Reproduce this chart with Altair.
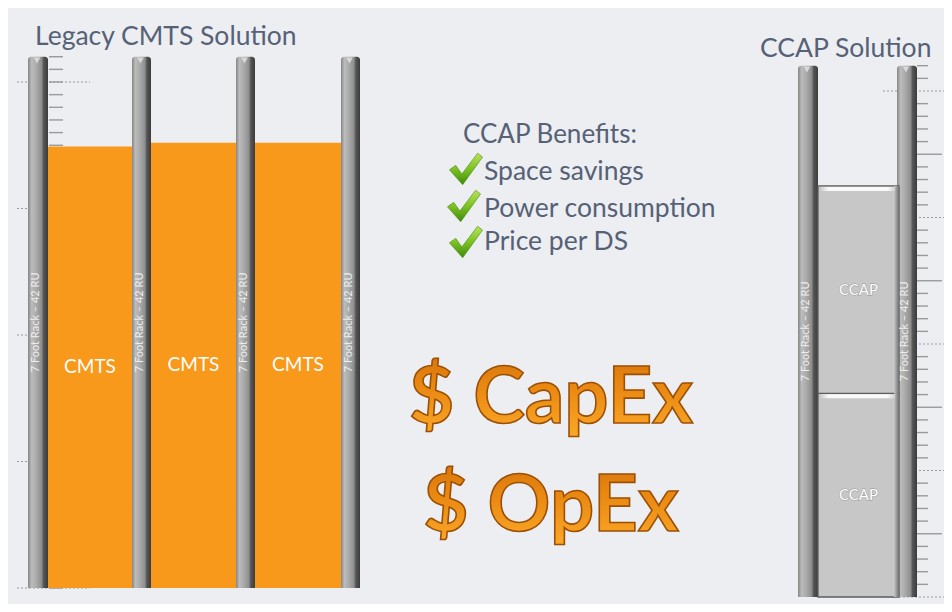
import altair as alt
import pandas as pd

# ---------------- data ----------------
rack_units = 42
titles = ["Legacy CMTS Solution", "CCAP Solution"]
rack_label = "7 Foot Rack – 42 RU"
cmts_labels = ["CMTS", "CMTS", "CMTS"]
cmts_units = [34.9, 35.2, 35.2]
ccap_labels = ["CCAP", "CCAP"]
ccap_units = [16.1, 16.4]
benefits_title = "CCAP Benefits:"
benefits = ["Space savings", "Power consumption", "Price per DS"]
cost_labels = ["$ CapEx", "$ OpEx"]

# ---------------- layout ----------------
PX_PER_RU = 12.65
FLOOR_PY = 588.0


def ru(py):
    return (FLOOR_PY - py) / PX_PER_RU


legacy_posts = [(28, 48), (132, 151), (236, 255), (341, 360)]
legacy_slots = [(48, 132), (151, 236), (255, 341)]
ccap_posts = [(798, 818), (897, 917)]
ccap_slot = (818, 899)
ccap_base = ru(597)

W, H = 936, 596
XS = alt.Scale(domain=[8, 8 + W], nice=False, zero=False)
YS = alt.Scale(domain=[ru(8 + H), ru(8)], nice=False, zero=False)


def X(f):
    return alt.X(f, type="quantitative", scale=XS, axis=None)


def Y(f):
    return alt.Y(f, type="quantitative", scale=YS, axis=None)


def hgrad(stops):
    return alt.LinearGradient(gradient="linear", x1=0, x2=1, y1=0, y2=0,
                              stops=[alt.GradientStop(offset=o, color=c) for o, c in stops])


def vgrad(stops):
    return alt.LinearGradient(gradient="linear", x1=0, x2=0, y1=0, y2=1,
                              stops=[alt.GradientStop(offset=o, color=c) for o, c in stops])


def rect_layer(df, **mk):
    return alt.Chart(df).mark_rect(**mk).encode(x=X("x"), x2=alt.X2("x2"), y=Y("y"), y2=alt.Y2("y2"))


def rule_layer(df, **mk):
    return alt.Chart(df).mark_rule(**mk).encode(x=X("x"), x2=alt.X2("x2"), y=Y("y"))


def text_layer(df, **mk):
    return alt.Chart(df).mark_text(**mk).encode(x=X("x"), y=Y("y"), text=alt.Text("t:N"))


FONT = "Lato"
TXT = "#566177"

# ---------------- ticks ----------------
left_minor = pd.DataFrame({"y": list(range(0, rack_units + 1)), "x": 49, "x2": 63})
left_major = pd.DataFrame({"y": list(range(0, rack_units + 1, 10)), "x": 17, "x2": 90})
rmin, rmed, rmaj = [], [], []
for k in range(0, rack_units + 1):
    yv = ccap_base + k
    if k % 10 == 0:
        rmaj.append({"y": yv, "x": 883, "x2": 8 + W})
    elif k % 5 == 0:
        rmed.append({"y": yv, "x": 917, "x2": 942})
    else:
        rmin.append({"y": yv, "x": 917, "x2": 928})

layers = [
    rule_layer(left_major, color="#9a9a9a", strokeWidth=1.2, strokeDash=[2, 2]),
    rule_layer(left_minor, color="#9a9a9a", strokeWidth=1.4),
    rule_layer(pd.DataFrame(rmaj), color="#9a9a9a", strokeWidth=1.2, strokeDash=[2, 2]),
    rule_layer(pd.DataFrame(rmed), color="#9a9a9a", strokeWidth=1.4),
    rule_layer(pd.DataFrame(rmin), color="#9a9a9a", strokeWidth=1.4),
]

# ---------------- posts ----------------
posts = [{"x": a, "x2": b, "y": 0, "y2": rack_units} for a, b in legacy_posts] + \
        [{"x": a, "x2": b, "y": ccap_base, "y2": ccap_base + rack_units} for a, b in ccap_posts]
posts_df = pd.DataFrame(posts)
post_grad = hgrad([(0, "#858585"), (0.18, "#bcbcbc"), (0.42, "#a9a9a9"), (0.68, "#8e8e8e"),
                   (0.78, "#555555"), (1, "#3c3c3c")])
layers.append(rect_layer(posts_df, color=post_grad, cornerRadiusTopLeft=3, cornerRadiusTopRight=3))
tops = pd.DataFrame({"x": (posts_df["x"] + posts_df["x2"]) / 2 - 1,
                     "y": posts_df["y2"] - 0.3})
layers.append(alt.Chart(tops).mark_point(shape="triangle-down", filled=True, size=45,
                                          color="#dedede", opacity=0.9)
              .encode(x=X("x"), y=Y("y")))

# ---------------- CMTS bars ----------------
bars = pd.DataFrame({"x": [s[0] for s in legacy_slots], "x2": [s[1] for s in legacy_slots],
                     "y": 0, "y2": cmts_units, "t": cmts_labels})
bars["ym"] = bars["y2"] / 2
layers.append(rect_layer(bars, color="#f8991c"))

# ---------------- CCAP boxes ----------------
bottoms, tops_ = [], []
cur = ccap_base
for u in ccap_units:
    bottoms.append(cur)
    tops_.append(cur + u)
    cur += u
boxes = pd.DataFrame({"x": ccap_slot[0], "x2": ccap_slot[1], "y": bottoms, "y2": tops_, "t": ccap_labels})
boxes["ym"] = (boxes["y"] + boxes["y2"]) / 2
layers.append(rect_layer(boxes, color="#c7c7c7", stroke="#5e5e5e", strokeWidth=1.3))
shade = boxes.assign(x=ccap_slot[1] - 5)
layers.append(rect_layer(shade, color=hgrad([(0, "#c7c7c7"), (1, "#6e6e6e")])))
hl = boxes.assign(x=ccap_slot[0] + 3, x2=ccap_slot[1] - 4,
                  y=boxes["y2"] - 5 / PX_PER_RU, y2=boxes["y2"] - 1 / PX_PER_RU)
layers.append(rect_layer(hl, color=hgrad([(0, "#d0d0d0"), (0.1, "#ffffff"), (0.9, "#ffffff"), (1, "#d0d0d0")]),
                         opacity=0.9))

# ---------------- texts on posts ----------------
plabels = pd.DataFrame({"x": (posts_df["x"] + posts_df["x2"]) / 2 - 2,
                        "y": (posts_df["y"] + posts_df["y2"]) / 2, "t": rack_label})
layers.append(text_layer(plabels, angle=270, align="center", baseline="middle", font=FONT,
                         fontSize=11, color="#eeeeee"))

# bar labels
layers.append(alt.Chart(bars.assign(x=(bars["x"] + bars["x2"]) / 2)).mark_text(
    align="center", baseline="middle", font=FONT, fontSize=19, color="#ffffff")
    .encode(x=X("x"), y=Y("ym"), text=alt.Text("t:N")))
cc = boxes.assign(x=(boxes["x"] + boxes["x2"]) / 2)
layers.append(alt.Chart(cc).mark_text(align="center", baseline="middle", font=FONT, fontSize=15,
                                      color="#ffffff", stroke="#8f8f8f", strokeWidth=0.9)
              .encode(x=X("x"), y=Y("ym"), text=alt.Text("t:N")))
layers.append(alt.Chart(cc).mark_text(align="center", baseline="middle", font=FONT, fontSize=15,
                                      color="#ffffff")
              .encode(x=X("x"), y=Y("ym"), text=alt.Text("t:N")))

# ---------------- titles ----------------
tdf = pd.DataFrame({"x": [35, 760], "y": [ru(45), ru(57)], "t": titles})
layers.append(text_layer(tdf, align="left", baseline="alphabetic", font=FONT, fontSize=26.5, color=TXT))

# ---------------- benefits ----------------
bdf = pd.DataFrame({"x": [463], "y": [ru(143)], "t": [benefits_title]})
layers.append(text_layer(bdf, align="left", baseline="alphabetic", font=FONT, fontSize=26, color=TXT))
idf = pd.DataFrame({"x": 484, "y": [ru(180), ru(217), ru(250)], "t": benefits})
layers.append(text_layer(idf, align="left", baseline="alphabetic", font=FONT, fontSize=26.5, color=TXT))
check_path = "M -1 0.05 L -0.62 -0.22 L -0.25 0.3 L 0.7 -0.95 L 1 -0.72 L -0.2 0.95 Z"
cdf = pd.DataFrame({"x": [466, 464, 466], "y": [ru(169), ru(206), ru(242)]})
layers.append(alt.Chart(cdf).mark_point(shape=check_path, filled=True, size=1100,
                                         color=vgrad([(0, "#b8e35a"), (0.5, "#7cc221"), (1, "#3f8a0c")]),
                                         stroke="#4a8a14", strokeWidth=0.6, opacity=1)
              .encode(x=X("x"), y=Y("y")))

# ---------------- cost text ----------------
kdf = pd.DataFrame({"x": 551, "y": [ru(423), ru(531)], "t": cost_labels})
layers.append(text_layer(kdf, align="center", baseline="alphabetic", font=FONT, fontSize=78,
                         fontWeight="bold",
                         color=vgrad([(0, "#d2700a"), (0.45, "#ea8912"), (1, "#fbaa2a")]),
                         stroke="#9c5006", strokeWidth=1.6))

chart = alt.layer(*layers).properties(
    width=W, height=H, background="#eceef1", padding=0,
    autosize=alt.AutoSizeParams(type="none"),
).configure_view(stroke=None)

chart.save("out.html", embed_options={"renderer": "svg", "actions": False})
